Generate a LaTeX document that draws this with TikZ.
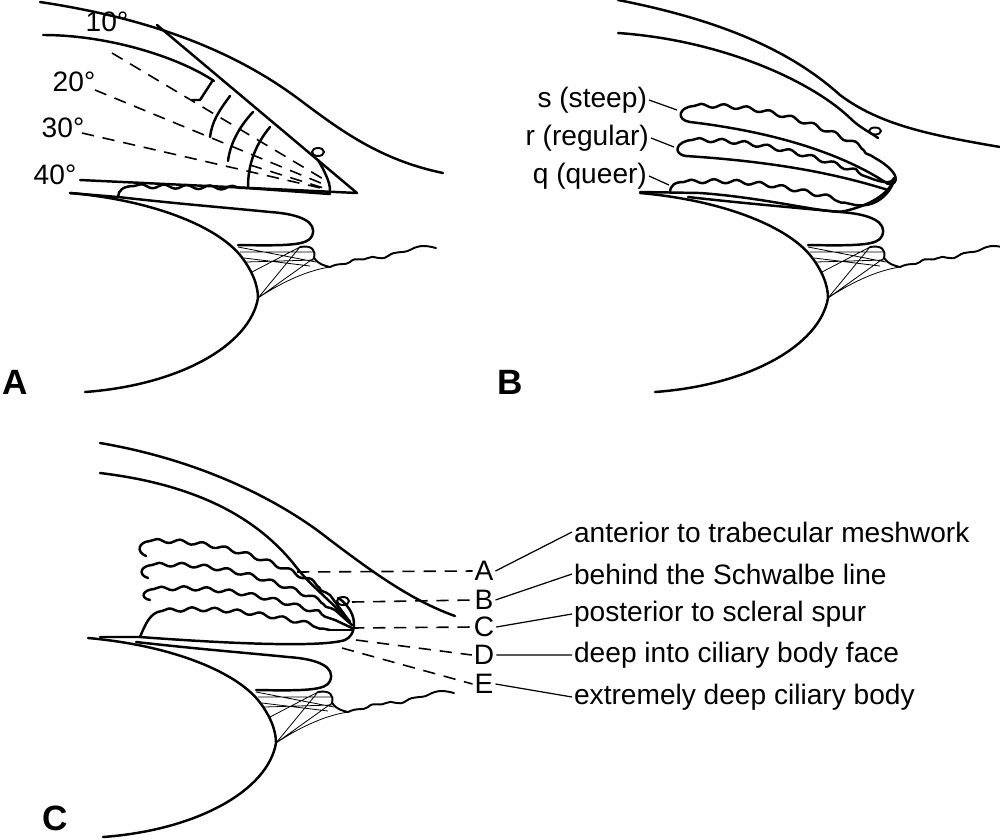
\documentclass[tikz,border=0pt]{standalone}
\usepackage{fontspec}
\setmainfont{Liberation Sans}
\usetikzlibrary{decorations.pathmorphing}
\begin{document}
\begin{tikzpicture}[x=0.02cm,y=-0.02cm,
  thk/.style={line width=1.4pt,line cap=round,line join=round},
  med/.style={line width=1.1pt,line cap=round,line join=round},
  thn/.style={line width=0.45pt},
  dsh/.style={line width=0.9pt,dash pattern=on 7pt off 5pt},
  wav/.style={decorate,decoration={snake,amplitude=1.1pt,segment length=13pt}},
  lbl/.style={font=\fontsize{16}{18}\selectfont,inner sep=1pt},
  pnl/.style={font=\fontsize{20}{22}\selectfont\bfseries,inner sep=0pt}]
\useasboundingbox (0,0) rectangle (1000,839);
\newcommand\lowanat{%
  % lens
  \draw[thk] (70,193) .. controls (150,200) and (215,225) .. (240,255) .. controls (252,270) and (258,285) .. (258,298) .. controls (250,345) and (180,385) .. (85,392);
  % iris back / ciliary
  \draw[thk] (118,197) .. controls (180,204) and (230,208) .. (270,212) .. controls (300,214) and (318,222) .. (312,236) .. controls (308,245) and (290,246) .. (238,245);
  \draw[med] (300,247) .. controls (312,245) and (316,250) .. (314,258) .. controls (318,264) and (325,266) .. (330,267);
  \draw[med] (330,267) .. controls (340,262) and (345,266) .. (350,262) .. controls (356,256) and (362,262) .. (368,258) .. controls (374,254) and (380,262) .. (388,256) .. controls (396,250) and (402,254) .. (410,250) .. controls (420,244) and (428,246) .. (436,248);
  % zonules
  \draw[thn] (240,252) -- (313,252) (246,262) -- (314,260) (252,272) -- (300,247)
    (258,298) -- (300,247) (258,298) -- (314,258) (258,298) .. controls (285,280) and (310,270) .. (330,267) (244,258) -- (310,266) (238,247) -- (316,262);
}
% ================= A =================
\draw[thk] (40,2) .. controls (160,20) and (240,55) .. (300,100) .. controls (340,130) and (380,160) .. (443,173);
\draw[thk] (43,35) .. controls (110,35) and (180,58) .. (214,81);
\draw[thk] (157,25) -- (357,193) -- (80,180);
\draw[thk] (70,193) -- (118,197);
\draw[thk] (118,197) .. controls (118,190) and (124,186) .. (134,186);
\draw[thk,wav] (134,186) -- (246,188);
\draw[thk] (246,188) -- (330,194);
\draw[dsh] (112,53) -- (330,183) (95,90) -- (328,186) (82,133) -- (325,189) (250,165) -- (330,190);
\draw[thk] (213,80) -- (200,100) -- (192,100);
\draw[thk] (230,96) .. controls (218,112) and (212,122) .. (210,137);
\draw[thk] (253,112) .. controls (238,128) and (230,145) .. (228,161);
\draw[thk] (270,127) .. controls (255,145) and (248,165) .. (248,187);
\draw[thk] (330,190) .. controls (330,182) and (324,170) .. (318,160);
\draw[med] (318,152) ellipse (6 and 4);
\lowanat
\node[lbl] (t10) at (107,22) {10°};
\node[lbl] (t20) at (74,82) {20°};
\node[lbl] (t30) at (63,128) {30°};
\node[lbl] (t40) at (55,175) {40°};
\node[pnl,anchor=south] (pA) at (15,395) {A};
% ================= B =================
\draw[thk] (618,0) .. controls (720,20) and (790,50) .. (840,95) .. controls (880,125) and (930,135) .. (1000,147);
\draw[thk] (618,33) .. controls (720,40) and (810,80) .. (850,118) .. controls (860,128) and (870,132) .. (878,138);
% s fold
\draw[thk] (690,122) .. controls (676,120) and (678,107) .. (694,106);
\draw[thk,wav] (694,106) .. controls (760,104) and (820,125) .. (875,158);
\draw[thk] (875,158) .. controls (900,172) and (900,185) .. (888,184) .. controls (860,165) and (800,135) .. (690,122);
% r fold
\draw[thk] (686,156) .. controls (672,154) and (676,141) .. (692,140);
\draw[thk,wav] (692,140) .. controls (760,140) and (820,160) .. (870,178);
\draw[thk] (870,178) .. controls (885,184) and (893,183) .. (894,178) (686,156) .. controls (780,162) and (840,175) .. (888,190);
% q fold
\draw[thk] (670,193) .. controls (670,185) and (675,182) .. (684,182);
\draw[thk,wav] (684,182) .. controls (760,178) and (810,195) .. (855,205);
\draw[thk] (855,205) .. controls (875,208) and (890,195) .. (895,178);
\draw[thk] (640,192) -- (700,193) .. controls (770,198) and (830,215) .. (845,211) .. controls (870,205) and (888,195) .. (895,178);
\draw[med] (875,131) ellipse (6 and 3.5);
\begin{scope}[shift={(570,0)}]\lowanat\end{scope}
\node[lbl,anchor=east] (ls) at (649,100) {s (steep)};
\node[lbl,anchor=east] (lr) at (651,138) {r (regular)};
\node[lbl,anchor=east] (lq) at (649,176) {q (queer)};
\coordinate (es) at (677,110); \coordinate (er) at (674,147); \coordinate (eq) at (669,185);
\draw[line width=0.7pt] (ls.east) -- (es) (lr.east) -- (er) (lq.east) -- (eq);
\node[pnl,anchor=south] (pB) at (510,395) {B};
% ================= C =================
\draw[thk] (100,443) .. controls (200,460) and (280,500) .. (330,540) .. controls (370,570) and (410,600) .. (455,616);
\draw[thk] (100,473) .. controls (200,485) and (260,520) .. (297,568) .. controls (310,585) and (330,600) .. (350,622);
\draw[thk] (146,556) .. controls (136,552) and (138,542) .. (150,541);
\draw[thk,wav] (150,541) .. controls (220,540) and (280,565) .. (330,595);
\draw[thk] (330,595) -- (350,622);
\draw[thk] (148,578) .. controls (138,575) and (140,566) .. (152,565);
\draw[thk,wav] (152,565) .. controls (230,562) and (290,590) .. (335,610);
\draw[thk] (335,610) -- (352,625);
\draw[thk] (150,600) .. controls (140,598) and (142,590) .. (154,589);
\draw[thk,wav] (154,589) .. controls (230,585) and (290,605) .. (335,620);
\draw[thk] (335,620) -- (352,628);
\draw[thk] (140,637) .. controls (145,625) and (150,612) .. (162,611);
\draw[thk,wav] (162,611) .. controls (230,605) and (290,622) .. (330,630);
\draw[thk] (330,630) -- (352,630);
\draw[thk] (100,637) -- (140,637) .. controls (220,643) and (320,648) .. (345,640) .. controls (356,635) and (356,620) .. (350,610) .. controls (346,604) and (342,600) .. (338,598);
\draw[med] (343,601) ellipse (6 and 4);
\begin{scope}[shift={(18,445)}]\lowanat\end{scope}
\node[lbl] (cA) at (484,571) {A};
\node[lbl] (cB) at (484,600) {B};
\node[lbl] (cC) at (484,627) {C};
\node[lbl] (cD) at (484,655) {D};
\node[lbl] (cE) at (484,684) {E};
\coordinate (sA) at (297,572); \coordinate (sB) at (352,602); \coordinate (sC) at (352,628);
\coordinate (sD) at (356,640); \coordinate (sE) at (342,648);
\draw[dsh] (sA) -- (cA.west) (sB) -- (cB.west) (sC) -- (cC.west) (sD) -- (cD.west) (sE) -- (cE.west);
\node[lbl,anchor=west] (dA) at (572,532) {anterior to trabecular meshwork};
\node[lbl,anchor=west] (dB) at (572,574) {behind the Schwalbe line};
\node[lbl,anchor=west] (dC) at (572,614) {posterior to scleral spur};
\node[lbl,anchor=west] (dD) at (572,655) {deep into ciliary body face};
\node[lbl,anchor=west] (dE) at (572,697) {extremely deep ciliary body};
\draw[line width=0.7pt] (cA.east) -- (dA.west) (cB.east) -- (dB.west) (cC.east) -- (dC.west) (cD.east) -- (dD.west) (cE.east) -- (dE.west);
\node[pnl,anchor=south] (pC) at (55,831) {C};
\end{tikzpicture}
\end{document}
